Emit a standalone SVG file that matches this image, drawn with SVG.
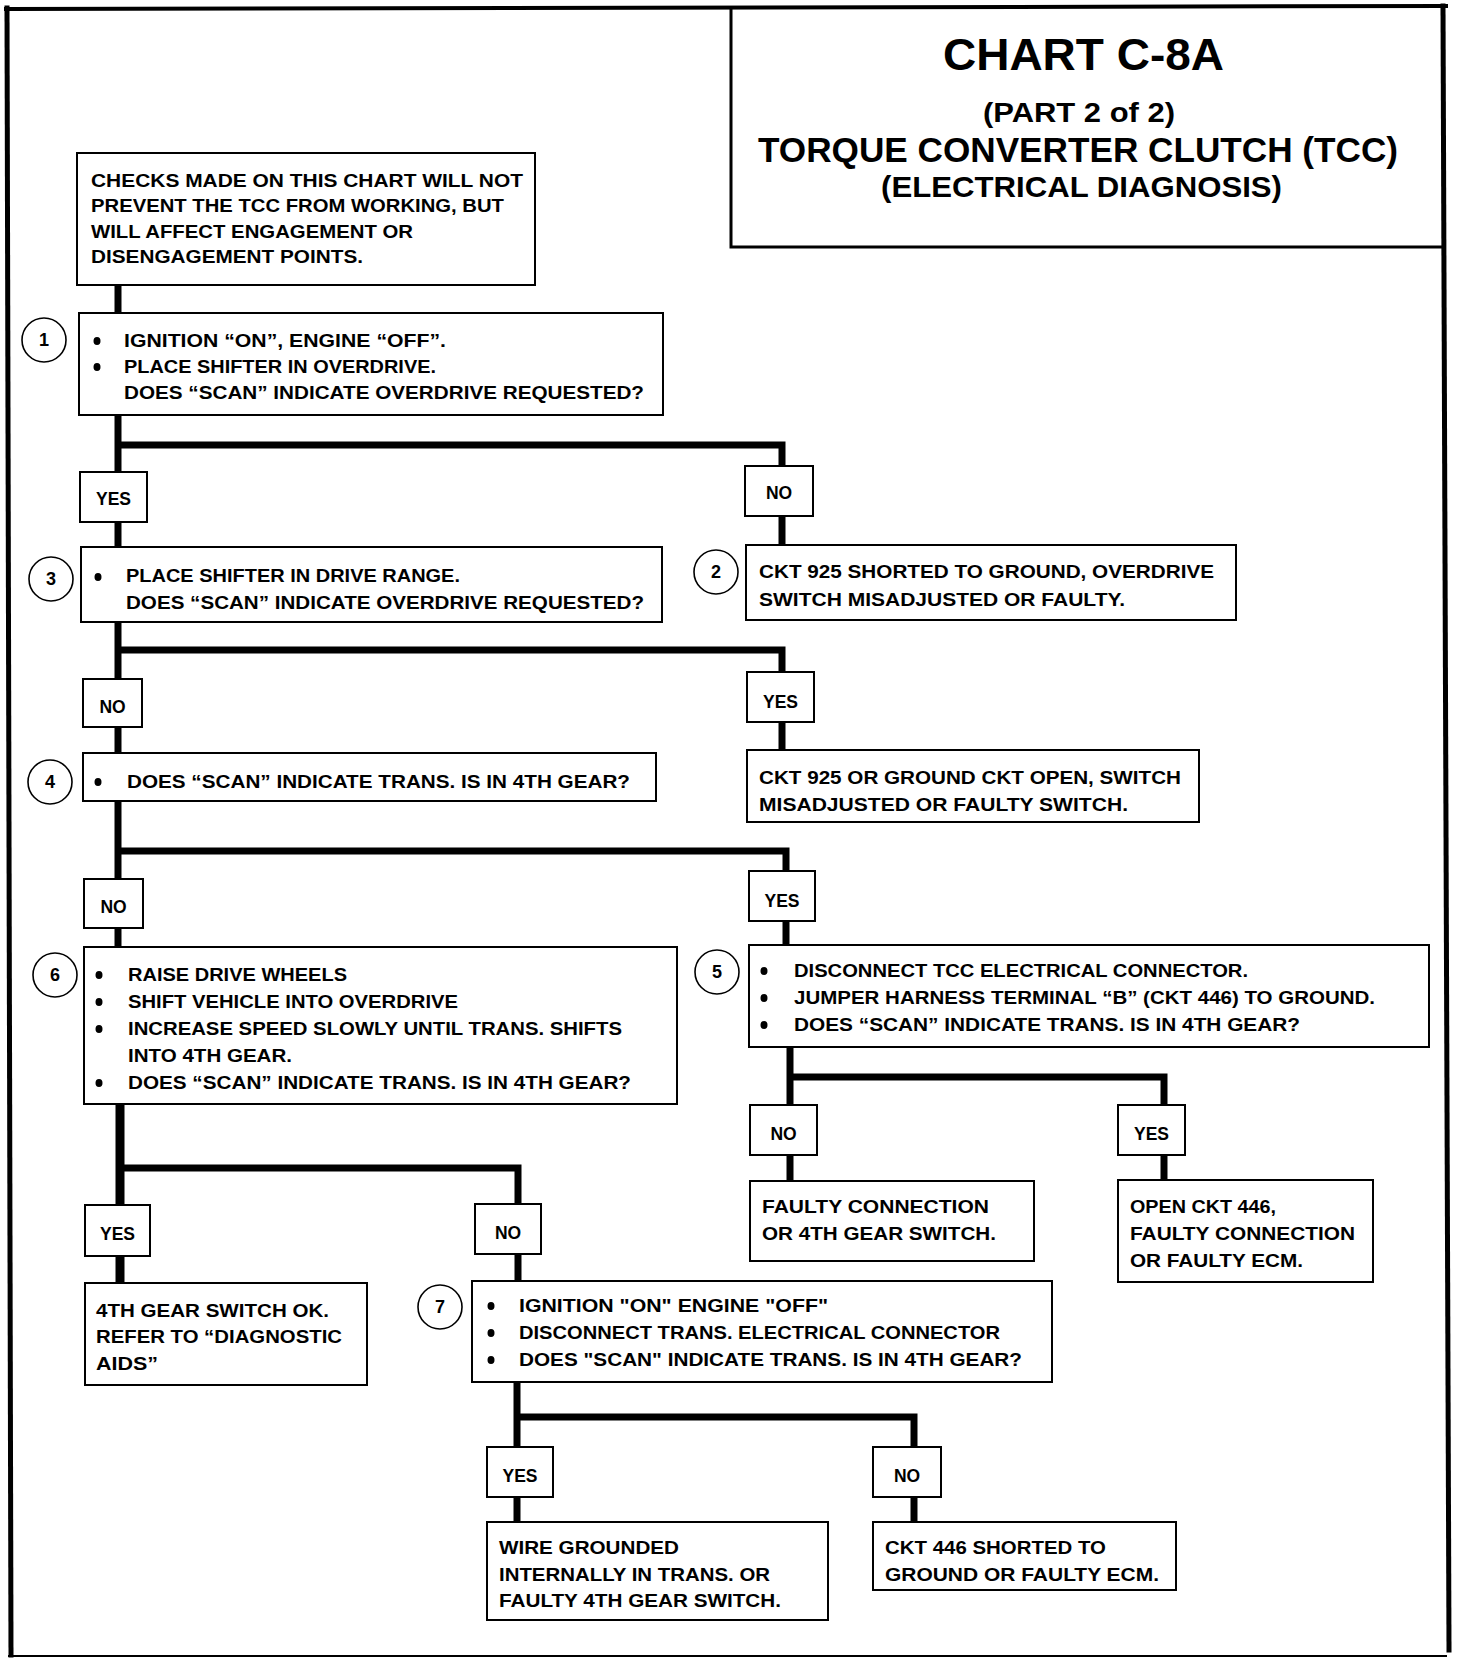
<svg xmlns="http://www.w3.org/2000/svg" width="1472" height="1662" viewBox="0 0 1472 1662">
<style>
.bg{fill:#fff}
.box{fill:#fff;stroke:#000;stroke-width:2}
.frame{fill:none;stroke:#000;stroke-linecap:square}
.t{font-family:"Liberation Sans",Arial,sans-serif;font-weight:bold;font-size:17.5px;fill:#000}
.lb{font-family:"Liberation Sans",Arial,sans-serif;font-weight:bold;font-size:17.5px;fill:#000;text-anchor:middle}
.ttl{font-family:"Liberation Sans",Arial,sans-serif;font-weight:bold;fill:#000}
.num{font-family:"Liberation Sans",Arial,sans-serif;font-weight:bold;font-size:18px;fill:#000;text-anchor:middle}
.circ{fill:#fff;stroke:#000;stroke-width:1.6}
.bul{fill:#000}
.conn{fill:none;stroke:#000;stroke-width:7;stroke-linejoin:miter;stroke-linecap:butt}
.thick{stroke-width:9}
</style>
<rect class="bg" x="0" y="0" width="1472" height="1662"/>

<g id="frame">
<path class="frame" d="M6 9 L1446 6" stroke-width="4"/>
<path class="frame" d="M7 8 L11 1655" stroke-width="5"/>
<path class="frame" d="M1443 6 L1449 1650" stroke-width="5"/>
<path class="frame" d="M9 1656 L1446 1656" stroke-width="2"/>
</g>

<g id="title">
<path d="M731 8 V247 H1443" fill="none" stroke="#000" stroke-width="3"/>
<text class="ttl" x="943" y="70" font-size="45" textLength="281" lengthAdjust="spacingAndGlyphs">CHART C-8A</text>
<text class="ttl" x="983" y="122" font-size="27" textLength="192" lengthAdjust="spacingAndGlyphs">(PART 2 of 2)</text>
<text class="ttl" x="758" y="162" font-size="35" textLength="640" lengthAdjust="spacingAndGlyphs">TORQUE CONVERTER CLUTCH (TCC)</text>
<text class="ttl" x="881" y="197" font-size="30" textLength="401" lengthAdjust="spacingAndGlyphs">(ELECTRICAL DIAGNOSIS)</text>
</g>

<g id="connectors">
<path class="conn" d="M118 285 V313"/>
<path class="conn" d="M118 415 V472"/>
<path class="conn" d="M118 445 H782 V466"/>
<path class="conn" d="M118 522 V547"/>
<path class="conn" d="M782 516 V545"/>
<path class="conn" d="M118 622 V679"/>
<path class="conn" d="M118 650 H782 V672"/>
<path class="conn" d="M118 727 V753"/>
<path class="conn" d="M782 722 V750"/>
<path class="conn" d="M118 801 V879"/>
<path class="conn" d="M118 851 H786 V871"/>
<path class="conn" d="M118 928 V947"/>
<path class="conn" d="M786 921 V945"/>
<path class="conn thick" d="M120 1104 V1205"/>
<path class="conn" d="M120 1168 H518 V1204"/>
<path class="conn thick" d="M120 1256 V1283"/>
<path class="conn" d="M518 1254 V1281"/>
<path class="conn" d="M790 1047 V1105"/>
<path class="conn" d="M790 1077 H1164 V1105"/>
<path class="conn" d="M790 1155 V1181"/>
<path class="conn" d="M1164 1155 V1180"/>
<path class="conn" d="M517 1382 V1447"/>
<path class="conn" d="M517 1417 H914 V1447"/>
<path class="conn" d="M517 1497 V1522"/>
<path class="conn" d="M914 1497 V1522"/>
</g>

<g id="note">
<rect class="box" x="77" y="153" width="458" height="132"/>
<text class="t" x="91" y="187" textLength="432" lengthAdjust="spacingAndGlyphs">CHECKS MADE ON THIS  CHART  WILL NOT</text>
<text class="t" x="91" y="212" textLength="413" lengthAdjust="spacingAndGlyphs">PREVENT THE TCC FROM WORKING, BUT</text>
<text class="t" x="91" y="238" textLength="322" lengthAdjust="spacingAndGlyphs">WILL AFFECT ENGAGEMENT OR</text>
<text class="t" x="91" y="263" textLength="272" lengthAdjust="spacingAndGlyphs">DISENGAGEMENT POINTS.</text>
</g>

<g id="step1">
<circle class="circ" cx="44" cy="340" r="22"/>
<text class="num" x="44" y="346">1</text>
<rect class="box" x="79" y="313" width="584" height="102"/>
<ellipse class="bul" cx="97" cy="341" rx="3.5" ry="4"/>
<ellipse class="bul" cx="97" cy="367" rx="3.5" ry="4"/>
<text class="t" x="124" y="347" textLength="322" lengthAdjust="spacingAndGlyphs">IGNITION “ON”, ENGINE “OFF”.</text>
<text class="t" x="124" y="373" textLength="312" lengthAdjust="spacingAndGlyphs">PLACE SHIFTER IN OVERDRIVE.</text>
<text class="t" x="124" y="399" textLength="520" lengthAdjust="spacingAndGlyphs">DOES “SCAN” INDICATE OVERDRIVE REQUESTED?</text>
</g>

<g id="yes1">
<rect class="box" x="80" y="472" width="67" height="50"/>
<text class="lb" x="113.5" y="505">YES</text>
</g>
<g id="no1">
<rect class="box" x="745" y="466" width="68" height="50"/>
<text class="lb" x="779" y="499">NO</text>
</g>

<g id="step3">
<circle class="circ" cx="51" cy="579" r="22"/>
<text class="num" x="51" y="585">3</text>
<rect class="box" x="81" y="547" width="581" height="75"/>
<ellipse class="bul" cx="98" cy="577" rx="3.5" ry="4"/>
<text class="t" x="126" y="582" textLength="334" lengthAdjust="spacingAndGlyphs">PLACE SHIFTER IN DRIVE RANGE.</text>
<text class="t" x="126" y="609" textLength="518" lengthAdjust="spacingAndGlyphs">DOES “SCAN” INDICATE OVERDRIVE REQUESTED?</text>
</g>

<g id="step2">
<circle class="circ" cx="716" cy="572" r="22"/>
<text class="num" x="716" y="578">2</text>
<rect class="box" x="746" y="545" width="490" height="75"/>
<text class="t" x="759" y="578" textLength="455" lengthAdjust="spacingAndGlyphs">CKT 925 SHORTED TO GROUND, OVERDRIVE</text>
<text class="t" x="759" y="606" textLength="366" lengthAdjust="spacingAndGlyphs">SWITCH MISADJUSTED OR FAULTY.</text>
</g>

<g id="no2">
<rect class="box" x="83" y="679" width="59" height="48"/>
<text class="lb" x="112.5" y="713">NO</text>
</g>
<g id="yes2">
<rect class="box" x="747" y="672" width="67" height="50"/>
<text class="lb" x="780.5" y="708">YES</text>
</g>

<g id="step4">
<circle class="circ" cx="50" cy="782" r="22"/>
<text class="num" x="50" y="788">4</text>
<rect class="box" x="83" y="753" width="573" height="48"/>
<ellipse class="bul" cx="98" cy="782" rx="3.5" ry="4"/>
<text class="t" x="127" y="788" textLength="503" lengthAdjust="spacingAndGlyphs">DOES “SCAN” INDICATE TRANS. IS IN 4TH GEAR?</text>
</g>

<g id="result925open">
<rect class="box" x="747" y="750" width="452" height="72"/>
<text class="t" x="759" y="784" textLength="422" lengthAdjust="spacingAndGlyphs">CKT 925 OR GROUND CKT OPEN, SWITCH</text>
<text class="t" x="759" y="811" textLength="369" lengthAdjust="spacingAndGlyphs">MISADJUSTED OR FAULTY SWITCH.</text>
</g>

<g id="no3">
<rect class="box" x="84" y="879" width="59" height="49"/>
<text class="lb" x="113.5" y="913">NO</text>
</g>
<g id="yes3">
<rect class="box" x="749" y="871" width="66" height="50"/>
<text class="lb" x="782" y="907">YES</text>
</g>

<g id="step6">
<circle class="circ" cx="55" cy="975" r="22"/>
<text class="num" x="55" y="981">6</text>
<rect class="box" x="84" y="947" width="593" height="157"/>
<ellipse class="bul" cx="99" cy="975" rx="3.5" ry="4"/>
<ellipse class="bul" cx="99" cy="1002" rx="3.5" ry="4"/>
<ellipse class="bul" cx="99" cy="1029" rx="3.5" ry="4"/>
<ellipse class="bul" cx="99" cy="1083" rx="3.5" ry="4"/>
<text class="t" x="128" y="981" textLength="219" lengthAdjust="spacingAndGlyphs">RAISE DRIVE WHEELS</text>
<text class="t" x="128" y="1008" textLength="330" lengthAdjust="spacingAndGlyphs">SHIFT VEHICLE INTO OVERDRIVE</text>
<text class="t" x="128" y="1035" textLength="494" lengthAdjust="spacingAndGlyphs">INCREASE SPEED SLOWLY UNTIL TRANS. SHIFTS</text>
<text class="t" x="128" y="1062" textLength="164" lengthAdjust="spacingAndGlyphs">INTO 4TH GEAR.</text>
<text class="t" x="128" y="1089" textLength="503" lengthAdjust="spacingAndGlyphs">DOES “SCAN” INDICATE TRANS. IS IN 4TH GEAR?</text>
</g>

<g id="step5">
<circle class="circ" cx="717" cy="972" r="22"/>
<text class="num" x="717" y="978">5</text>
<rect class="box" x="749" y="945" width="680" height="102"/>
<ellipse class="bul" cx="764" cy="971" rx="3.5" ry="4"/>
<ellipse class="bul" cx="764" cy="998" rx="3.5" ry="4"/>
<ellipse class="bul" cx="764" cy="1025" rx="3.5" ry="4"/>
<text class="t" x="794" y="977" textLength="454" lengthAdjust="spacingAndGlyphs">DISCONNECT TCC ELECTRICAL CONNECTOR.</text>
<text class="t" x="794" y="1004" textLength="581" lengthAdjust="spacingAndGlyphs">JUMPER HARNESS TERMINAL “B” (CKT 446) TO GROUND.</text>
<text class="t" x="794" y="1031" textLength="506" lengthAdjust="spacingAndGlyphs">DOES “SCAN” INDICATE TRANS. IS IN 4TH GEAR?</text>
</g>

<g id="no5">
<rect class="box" x="750" y="1105" width="67" height="50"/>
<text class="lb" x="783.5" y="1140">NO</text>
</g>
<g id="yes5">
<rect class="box" x="1118" y="1105" width="67" height="50"/>
<text class="lb" x="1151.5" y="1140">YES</text>
</g>

<g id="resultFaulty">
<rect class="box" x="750" y="1181" width="284" height="80"/>
<text class="t" x="762" y="1213" textLength="227" lengthAdjust="spacingAndGlyphs">FAULTY CONNECTION</text>
<text class="t" x="762" y="1240" textLength="234" lengthAdjust="spacingAndGlyphs">OR 4TH GEAR SWITCH.</text>
</g>

<g id="resultOpen446">
<rect class="box" x="1118" y="1180" width="255" height="102"/>
<text class="t" x="1130" y="1213" textLength="146" lengthAdjust="spacingAndGlyphs">OPEN CKT 446,</text>
<text class="t" x="1130" y="1240" textLength="225" lengthAdjust="spacingAndGlyphs">FAULTY CONNECTION</text>
<text class="t" x="1130" y="1267" textLength="173" lengthAdjust="spacingAndGlyphs">OR FAULTY ECM.</text>
</g>

<g id="yes6">
<rect class="box" x="85" y="1205" width="65" height="51"/>
<text class="lb" x="117.5" y="1240">YES</text>
</g>
<g id="no6">
<rect class="box" x="475" y="1204" width="66" height="50"/>
<text class="lb" x="508" y="1239">NO</text>
</g>

<g id="result4thOk">
<rect class="box" x="85" y="1283" width="282" height="102"/>
<text class="t" x="96" y="1317" textLength="233" lengthAdjust="spacingAndGlyphs">4TH GEAR SWITCH OK.</text>
<text class="t" x="96" y="1343" textLength="246" lengthAdjust="spacingAndGlyphs">REFER TO “DIAGNOSTIC</text>
<text class="t" x="96" y="1370" textLength="62" lengthAdjust="spacingAndGlyphs">AIDS”</text>
</g>

<g id="step7">
<circle class="circ" cx="440" cy="1307" r="22"/>
<text class="num" x="440" y="1313">7</text>
<rect class="box" x="472" y="1281" width="580" height="101"/>
<ellipse class="bul" cx="491" cy="1306" rx="3.5" ry="4"/>
<ellipse class="bul" cx="491" cy="1333" rx="3.5" ry="4"/>
<ellipse class="bul" cx="491" cy="1360" rx="3.5" ry="4"/>
<text class="t" x="519" y="1312" textLength="309" lengthAdjust="spacingAndGlyphs">IGNITION "ON" ENGINE "OFF"</text>
<text class="t" x="519" y="1339" textLength="481" lengthAdjust="spacingAndGlyphs">DISCONNECT TRANS. ELECTRICAL CONNECTOR</text>
<text class="t" x="519" y="1366" textLength="503" lengthAdjust="spacingAndGlyphs">DOES "SCAN" INDICATE TRANS. IS IN 4TH GEAR?</text>
</g>

<g id="yes7">
<rect class="box" x="487" y="1447" width="66" height="50"/>
<text class="lb" x="520" y="1482">YES</text>
</g>
<g id="no7">
<rect class="box" x="873" y="1447" width="68" height="50"/>
<text class="lb" x="907" y="1482">NO</text>
</g>

<g id="resultWire">
<rect class="box" x="487" y="1522" width="341" height="98"/>
<text class="t" x="499" y="1554" textLength="180" lengthAdjust="spacingAndGlyphs">WIRE GROUNDED</text>
<text class="t" x="499" y="1581" textLength="271" lengthAdjust="spacingAndGlyphs">INTERNALLY IN TRANS. OR</text>
<text class="t" x="499" y="1607" textLength="282" lengthAdjust="spacingAndGlyphs">FAULTY 4TH GEAR SWITCH.</text>
</g>

<g id="result446short">
<rect class="box" x="873" y="1522" width="303" height="68"/>
<text class="t" x="885" y="1554" textLength="221" lengthAdjust="spacingAndGlyphs">CKT 446 SHORTED TO</text>
<text class="t" x="885" y="1581" textLength="274" lengthAdjust="spacingAndGlyphs">GROUND OR FAULTY ECM.</text>
</g>
</svg>
